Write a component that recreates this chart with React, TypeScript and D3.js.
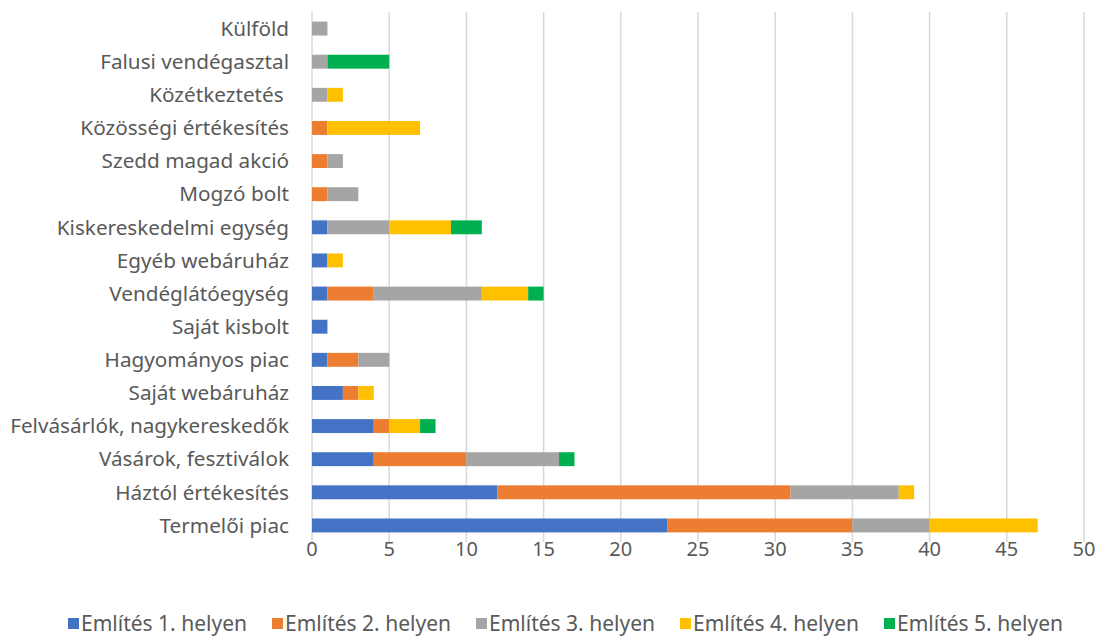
import React, { useEffect, useRef } from 'react'
import * as d3 from 'd3'

// categories top to bottom as in the picture
const categories = [
  'Külföld',
  'Falusi vendégasztal',
  'Közétkeztetés ',
  'Közösségi értékesítés',
  'Szedd magad akció',
  'Mogzó bolt',
  'Kiskereskedelmi egység',
  'Egyéb webáruház',
  'Vendéglátóegység',
  'Saját kisbolt',
  'Hagyományos piac',
  'Saját webáruház',
  'Felvásárlók, nagykereskedők',
  'Vásárok, fesztiválok',
  'Háztól értékesítés',
  'Termelői piac',
]

const seriesNames = [
  'Említés 1. helyen',
  'Említés 2. helyen',
  'Említés 3. helyen',
  'Említés 4. helyen',
  'Említés 5. helyen',
]
const colors = ['#4472C4', '#ED7D31', '#A5A5A5', '#FFC000', '#00B050']

const hely1 = [0, 0, 0, 0, 0, 0, 1, 1, 1, 1, 1, 2, 4, 4, 12, 23]
const hely2 = [0, 0, 0, 1, 1, 1, 0, 0, 3, 0, 2, 1, 1, 6, 19, 12]
const hely3 = [1, 1, 1, 0, 1, 2, 4, 0, 7, 0, 2, 0, 0, 6, 7, 5]
const hely4 = [0, 0, 1, 6, 0, 0, 4, 1, 3, 0, 0, 1, 2, 0, 1, 7]
const hely5 = [0, 4, 0, 0, 0, 0, 2, 0, 1, 0, 0, 0, 1, 1, 0, 0]

const xTicks = [0, 5, 10, 15, 20, 25, 30, 35, 40, 45, 50]

const FONT = '"Noto Sans", sans-serif'

const App = () => {
  const ref = useRef<SVGSVGElement | null>(null)

  useEffect(() => {
    const svg = d3.select(ref.current)
    svg.selectAll('*').remove()

    const left = 312
    const right = 1084
    const top = 12
    const bottom = 542

    const rows = categories.map((c, i) => ({
      cat: c,
      s0: hely1[i], s1: hely2[i], s2: hely3[i], s3: hely4[i], s4: hely5[i],
    }))
    const keys = ['s0', 's1', 's2', 's3', 's4']
    const stacked = d3.stack<any>().keys(keys)(rows)

    const x = d3.scaleLinear().domain([0, 50]).range([left, right])
    const y = d3.scaleBand().domain(categories).range([top, bottom]).paddingInner(0.58).paddingOuter(0.29)

    // gridlines
    svg.append('g')
      .selectAll('line')
      .data(xTicks)
      .join('line')
      .attr('x1', d => x(d))
      .attr('x2', d => x(d))
      .attr('y1', top)
      .attr('y2', bottom)
      .attr('stroke', '#D9D9D9')
      .attr('stroke-width', 1.5)

    // bars
    svg.append('g')
      .selectAll('g')
      .data(stacked)
      .join('g')
      .attr('fill', (d, i) => colors[i])
      .selectAll('rect')
      .data(d => d)
      .join('rect')
      .attr('x', d => x(d[0]))
      .attr('width', d => x(d[1]) - x(d[0]))
      .attr('y', d => y(d.data.cat) as number)
      .attr('height', y.bandwidth())

    // category labels
    svg.append('g')
      .selectAll('text')
      .data(categories)
      .join('text')
      .attr('x', left - 23)
      .attr('y', d => (y(d) as number) + y.bandwidth() / 2)
      .attr('dy', '0.35em')
      .attr('text-anchor', 'end')
      .attr('fill', '#595959')
      .attr('font-family', FONT)
      .attr('font-size', 20.7)
      .style('white-space', 'pre')
      .text(d => d)

    // x tick labels
    svg.append('g')
      .selectAll('text')
      .data(xTicks)
      .join('text')
      .attr('x', d => x(d))
      .attr('y', 549)
      .attr('dy', '0.35em')
      .attr('text-anchor', 'middle')
      .attr('fill', '#595959')
      .attr('font-family', FONT)
      .attr('font-size', 20)
      .text(d => d)

    // legend
    const legend = svg.append('g')
      .selectAll('g')
      .data(seriesNames)
      .join('g')
      .attr('transform', (d, i) => `translate(${68 + i * 204},624)`)
    legend.append('rect')
      .attr('x', 0)
      .attr('y', -6)
      .attr('width', 11)
      .attr('height', 11)
      .attr('fill', (d, i) => colors[i])
    legend.append('text')
      .attr('x', 13)
      .attr('dy', '0.35em')
      .attr('fill', '#595959')
      .attr('font-family', FONT)
      .attr('font-size', 21)
      .text(d => d)
  }, [])

  return (
    <svg ref={ref} width={1100} height={637}
      style={{ position: 'absolute', left: 0, top: 0, background: '#fff' }} />
  )
}

export default App
